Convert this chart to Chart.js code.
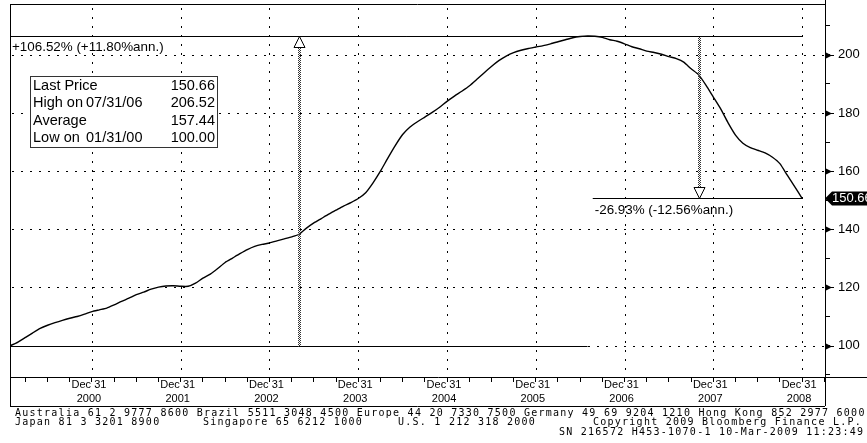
<!DOCTYPE html>
<html>
<head>
<meta charset="utf-8">
<script src="https://cdn.jsdelivr.net/npm/chart.js@4"></script>
<style>
  html, body { margin: 0; padding: 0; background: #fff; }
  #chart1 { display: block; }
</style>
</head>
<body>
<canvas id="chart1" width="867" height="443"></canvas>
<script>
// monthly index, 0 = Jan 31 2000 ... 107 = Dec 31 2008
const prices = [
    100.0, 101.2, 102.8, 104.4, 105.9, 107.0, 107.9, 108.7, 109.4, 110.0, 110.8, 111.7,
    112.3, 112.9, 114.0, 115.2, 116.3, 117.5, 118.4, 119.4, 120.1, 120.5, 120.6, 120.4,
    120.4, 121.5, 123.2, 124.6, 126.5, 128.6, 130.1, 131.6, 133.0, 134.1, 134.8, 135.3,
    136.0, 136.7, 137.4, 138.3, 140.4, 142.2, 143.7, 145.2, 146.6, 148.0, 149.2, 150.6,
    152.6, 156.0, 160.0, 164.5, 168.8, 172.6, 175.2, 177.0, 178.6, 180.2, 182.0, 184.0,
    185.8, 187.5, 189.3, 191.5, 193.8, 196.0, 198.0, 199.6, 200.8, 201.6, 202.2, 202.7,
    203.2, 203.8, 204.5, 205.2, 205.9, 206.3, 206.52, 206.4, 206.0, 205.2, 204.7, 203.8,
    202.8, 202.1, 201.3, 200.8, 200.2, 199.4, 198.7, 197.5, 195.2, 193.2, 189.6, 185.5,
    181.4, 176.6, 172.4, 169.6, 168.1, 167.2, 166.3, 164.8, 162.6, 158.6, 154.7, 150.66
];
const months = prices.map((p, i) => i);

const yearLabels = ['2000', '2001', '2002', '2003', '2004', '2005', '2006', '2007', '2008'];
const dayLabel = 'Dec 31';

const statRows = [
    ['Last Price', '', '150.66'],
    ['High on', '07/31/06', '206.52'],
    ['Average', '', '157.44'],
    ['Low on', '01/31/00', '100.00']
];

const highValue = 206.52, highMonth = 78;
const lowValue = 100.00;
const lastValue = 150.66, lastMonth = 107;
const upMonth = 39, downMonth = 93;
const gainText = '+106.52% (+11.80%ann.)';
const lossText = '-26.93% (-12.56%ann.)';

const footer = [
    [[15, 'Australia 61 2 9777 8600 Brazil 5511 3048 4500 Europe 44 20 7330 7500 Germany 49 69 9204 1210 Hong Kong 852 2977 6000']],
    [[15, 'Japan 81 3 3201 8900'], [203, 'Singapore 65 6212 1000'], [398, 'U.S. 1 212 318 2000'], [593, 'Copyright 2009 Bloomberg Finance L.P.']],
    [[559, 'SN 216572 H453-1070-1 10-Mar-2009 11:23:49']]
];

const isMajorY = (v) => v % 20 === 0 && v >= 100 && v <= 200;
const isMajorX = (v) => v % 12 === 11;

const bloomberg = {
    id: 'bloomberg',
    beforeDraw(chart) {
        const ctx = chart.ctx;
        ctx.save();
        ctx.fillStyle = '#fff';
        ctx.fillRect(0, 0, chart.width, chart.height);
        ctx.restore();
    },
    beforeDatasetsDraw(chart) {
        // dotted grid
        const { ctx, chartArea: a, scales: { x, y } } = chart;
        ctx.save();
        ctx.strokeStyle = '#000';
        ctx.lineWidth = 1;
        ctx.setLineDash([2, 7]);
        y.ticks.forEach(t => {
            if (!isMajorY(t.value)) return;
            const py = Math.round(y.getPixelForValue(t.value)) + 0.5;
            ctx.beginPath();
            ctx.moveTo(a.left + 2, py);
            ctx.lineTo(a.right, py);
            ctx.stroke();
        });
        x.ticks.forEach(t => {
            if (!isMajorX(t.value)) return;
            const px = Math.round(x.getPixelForValue(t.value)) + 0.5;
            ctx.beginPath();
            ctx.moveTo(px, a.top + 4);
            ctx.lineTo(px, a.bottom);
            ctx.stroke();
        });
        ctx.restore();
    },
    afterDraw(chart) {
        const { ctx, chartArea: a, scales: { x, y } } = chart;
        ctx.save();
        ctx.strokeStyle = '#000';
        ctx.fillStyle = '#000';
        ctx.lineWidth = 1;

        const hline = (x1, x2, yy) => {
            ctx.beginPath();
            ctx.moveTo(x1, Math.round(yy) + 0.5);
            ctx.lineTo(x2, Math.round(yy) + 0.5);
            ctx.stroke();
        };
        const vline = (xx, y1, y2) => {
            ctx.beginPath();
            ctx.moveTo(Math.round(xx) + 0.5, y1);
            ctx.lineTo(Math.round(xx) + 0.5, y2);
            ctx.stroke();
        };

        // frame
        hline(a.left, a.right, a.top);
        hline(a.left, chart.width, a.bottom);
        hline(a.left, a.right, 406);
        vline(a.left, a.top, 406);
        vline(a.right, 0, 406);

        // right axis pointers
        y.ticks.forEach(t => {
            if (!isMajorY(t.value)) return;
            const py = Math.round(y.getPixelForValue(t.value)) + 0.5;
            ctx.beginPath();
            ctx.moveTo(a.right, py - 3.5);
            ctx.lineTo(a.right + 7, py);
            ctx.lineTo(a.right, py + 3.5);
            ctx.closePath();
            ctx.fill();
            hline(a.right, a.right + 9, py - 0.5);
        });

        // high / low / last lines
        const yHigh = y.getPixelForValue(highValue);
        const yLow = y.getPixelForValue(lowValue);
        const yLast = y.getPixelForValue(lastValue);
        hline(a.left, x.getPixelForValue(lastMonth), yHigh);
        hline(a.left, x.getPixelForValue(highMonth), yLow);
        hline(x.getPixelForValue(highMonth + 0.7), x.getPixelForValue(lastMonth), yLast);

        // checkered arrow shafts
        const shaft = (xx, y1, y2) => {
            const px = Math.round(xx);
            ctx.fillStyle = '#333';
            for (let yy = Math.round(y1); yy < Math.round(y2); yy++) {
                if (yy % 2) {
                    ctx.fillRect(px, yy, 1, 1);
                } else {
                    ctx.fillRect(px - 1, yy, 1, 1);
                    ctx.fillRect(px + 1, yy, 1, 1);
                }
            }
            ctx.fillStyle = '#000';
        };
        const tri = (xx, tipY, dir) => {
            const px = Math.round(xx) + 0.5;
            const ty = Math.round(tipY) + 0.5;
            ctx.beginPath();
            ctx.moveTo(px, ty);
            ctx.lineTo(px - 5.5, ty + dir * 11);
            ctx.lineTo(px + 5.5, ty + dir * 11);
            ctx.closePath();
            ctx.fillStyle = '#fff';
            ctx.fill();
            ctx.stroke();
            ctx.fillStyle = '#000';
        };
        const xUp = x.getPixelForValue(upMonth);
        shaft(xUp, yHigh + 11, yLow);
        tri(xUp, yHigh, 1);
        const xDown = x.getPixelForValue(downMonth);
        shaft(xDown, yHigh + 1, yLast - 11);
        tri(xDown, yLast, -1);

        // percent labels
        ctx.font = '13.4px "Liberation Sans", Arial, sans-serif';
        ctx.textBaseline = 'middle';
        ctx.textAlign = 'left';
        ctx.fillText(gainText, 12, yHigh + 11);
        ctx.fillText(lossText, x.getPixelForValue(highMonth + 0.7) + 2, yLast + 12);

        // stats box
        ctx.fillStyle = '#fff';
        ctx.fillRect(30, 76, 188, 72);
        ctx.strokeStyle = '#333';
        ctx.strokeRect(30.5, 76.5, 187, 71);
        ctx.fillStyle = '#000';
        ctx.font = '14.5px "Liberation Sans", Arial, sans-serif';
        statRows.forEach((r, i) => {
            const ry = 85.5 + i * 17.5;
            ctx.textAlign = 'left';
            ctx.fillText(r[0], 33, ry);
            if (r[1]) ctx.fillText(r[1], 86, ry);
            ctx.textAlign = 'right';
            ctx.fillText(r[2], 215, ry);
        });

        // last value tag
        const ty = Math.round(yLast) + 0.5;
        ctx.beginPath();
        ctx.moveTo(a.right, ty);
        ctx.lineTo(a.right + 7, ty - 7);
        ctx.lineTo(chart.width, ty - 7);
        ctx.lineTo(chart.width, ty + 7);
        ctx.lineTo(a.right + 7, ty + 7);
        ctx.closePath();
        ctx.fill();
        ctx.fillStyle = '#fff';
        ctx.textAlign = 'left';
        ctx.font = '13px "Liberation Sans", Arial, sans-serif';
        ctx.fillText(lastValue.toFixed(2), a.right + 7, ty);

        // footer
        ctx.fillStyle = '#000';
        ctx.font = '10px "DejaVu Sans Mono", monospace';
        ctx.letterSpacing = '1.25px';
        footer.forEach((line, i) => {
            line.forEach(([fx, txt]) => ctx.fillText(txt, fx, 413 + i * 9.5));
        });
        ctx.restore();
    }
};

const chart1 = document.getElementById('chart1');

const data = {
    datasets: [{
        data: months.map((m, i) => ({ x: m, y: prices[i] })),
        borderColor: '#000',
        borderWidth: 1.4,
        pointRadius: 0,
        tension: 0.2,
        fill: false
    }]
};

const config = {
    type: 'line',
    data: data,
    options: {
        responsive: false,
        animation: false,
        devicePixelRatio: 1,
        layout: { padding: { left: 10, top: 4, right: 0, bottom: 37 } },
        plugins: { legend: { display: false }, tooltip: { enabled: false } },
        scales: {
            x: {
                type: 'linear',
                min: -0.08,
                max: 110.1,
                afterBuildTicks: (scale) => {
                    const t = [];
                    for (let m = 2; m <= 110; m += 3) t.push({ value: m });
                    scale.ticks = t;
                },
                afterFit: (scale) => {
                    scale.height = 29;
                    scale.paddingLeft = 0;
                    scale.paddingRight = 0;
                },
                grid: {
                    drawOnChartArea: false,
                    tickColor: '#000',
                    tickLength: 5,
                    tickBorderDash: [],
                    lineWidth: 1
                },
                border: { display: false },
                ticks: {
                    autoSkip: false,
                    maxRotation: 0,
                    padding: -4,
                    labelOffset: -3,
                    color: '#000',
                    font: { family: '"Liberation Sans", Arial, sans-serif', size: 11, lineHeight: '14px' },
                    callback: (v) => isMajorX(v) ? [dayLabel, yearLabels[(v - 11) / 12]] : ''
                }
            },
            y: {
                position: 'right',
                min: 89.2,
                max: 217.5,
                afterFit: (scale) => {
                    scale.width = 42;
                    scale.paddingTop = 0;
                    scale.paddingBottom = 0;
                },
                grid: {
                    drawOnChartArea: false,
                    tickColor: '#000',
                    tickLength: 5,
                    tickBorderDash: [],
                    lineWidth: 1
                },
                border: { display: false },
                ticks: {
                    stepSize: 10,
                    includeBounds: false,
                    padding: 8,
                    color: '#000',
                    font: { family: '"Liberation Sans", Arial, sans-serif', size: 13 },
                    callback: (v) => isMajorY(v) ? String(v) : ''
                }
            }
        }
    },
    plugins: [bloomberg]
};

new Chart(chart1, config);
</script>
</body>
</html>
